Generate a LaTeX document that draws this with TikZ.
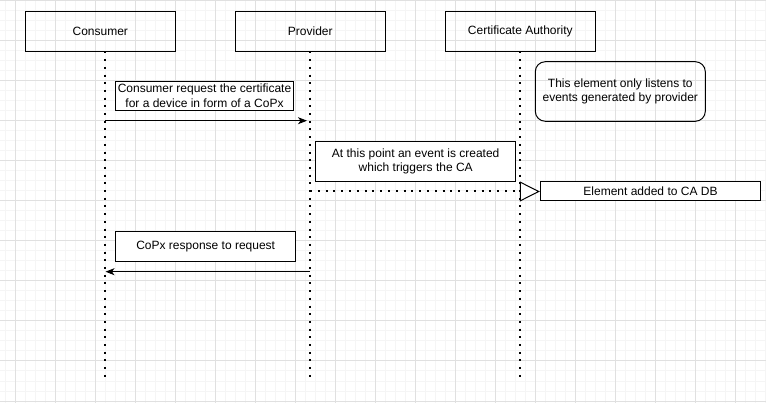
\documentclass[tikz,border=0pt]{standalone}
\usepackage{fontspec}
\setmainfont{Liberation Sans}
\usetikzlibrary{arrows.meta}
\begin{document}
\begin{tikzpicture}[x=1pt,y=-1pt,
  every node/.style={font=\fontsize{12}{14.5}\selectfont, text=black},
  actor/.style={draw, line width=1pt, minimum width=150pt, minimum height=39.6pt, inner sep=0pt},
  note/.style={draw, line width=1pt, align=center, inner sep=0pt, fill=white},
  lifeline/.style={line width=2pt, dash pattern=on 2pt off 5.7pt},
  msg/.style={line width=1pt, -{Stealth[length=9pt, width=7pt, inset=2.5pt]}},
  async/.style={line width=2pt, dash pattern=on 2pt off 5.8pt, -{Triangle[length=20pt, width=20pt, fill=white, line width=1pt]}},
  minorgrid/.style={black!4, line width=1pt},
  majorgrid/.style={black!12, line width=1pt}]
\useasboundingbox (0,0) rectangle (766,403);
\fill[white] (0,0) rectangle (766,403);
% grid
\foreach \x in {5,15,...,765} \draw[minorgrid] (\x,0) -- (\x,403);
\foreach \y in {1,11,...,401} \draw[minorgrid] (0,\y) -- (766,\y);
\foreach \x in {15,55,...,735} \draw[majorgrid] (\x,0) -- (\x,403);
\foreach \y in {1,41,...,401} \draw[majorgrid] (0,\y) -- (766,\y);
% actors
\node[actor] (cons) at (100.3,31.5) {Consumer};
\node[actor] (prov) at (310.3,31.5) {Provider};
\node[actor] (ca) at (520.3,31.5) {Certificate Authority};
% lifelines
\coordinate (c0) at (105,51.5); \coordinate (c1) at (105,381);
\coordinate (p0) at (310,51.5); \coordinate (p1) at (310,381);
\coordinate (a0) at (520,51.5); \coordinate (a1) at (520,381);
\draw[lifeline] (c0) -- (c1);
\draw[lifeline] (p0) -- (p1);
\draw[lifeline] (a0) -- (a1);
% note
\node[draw, line width=1pt, rounded corners=10pt, align=center, minimum width=170pt, minimum height=59.6pt, inner sep=0pt] (listen) at (620.3,91.5) {This element only listens to\\events generated by provider};
% message 1
\node[note, minimum width=177.6pt, minimum height=29.7pt] (m1) at (204.5,95.9) {Consumer request the certificate\\for a device in form of a CoPx};
\coordinate (m1s) at (105,120.7); \coordinate (m1e) at (307,120.7);
\draw[msg] (m1s) -- (m1e);
% message 2
\node[note, minimum width=200pt, minimum height=40.3pt] (m2) at (415.7,161.2) {At this point an event is created\\which triggers the CA};
\node[note, minimum width=220.4pt, minimum height=19pt] (elem) at (650.5,191.5) {Element added to CA DB};
\coordinate (m2s) at (310,191.5);
\draw[async] (m2s) -- (elem.west);
% message 3
\node[note, minimum width=180pt, minimum height=29.6pt] (m3) at (205.7,246.5) {CoPx response to request};
\coordinate (m3s) at (310,271.7); \coordinate (m3e) at (105.5,271.7);
\draw[msg] (m3s) -- (m3e);
\end{tikzpicture}
\end{document}
